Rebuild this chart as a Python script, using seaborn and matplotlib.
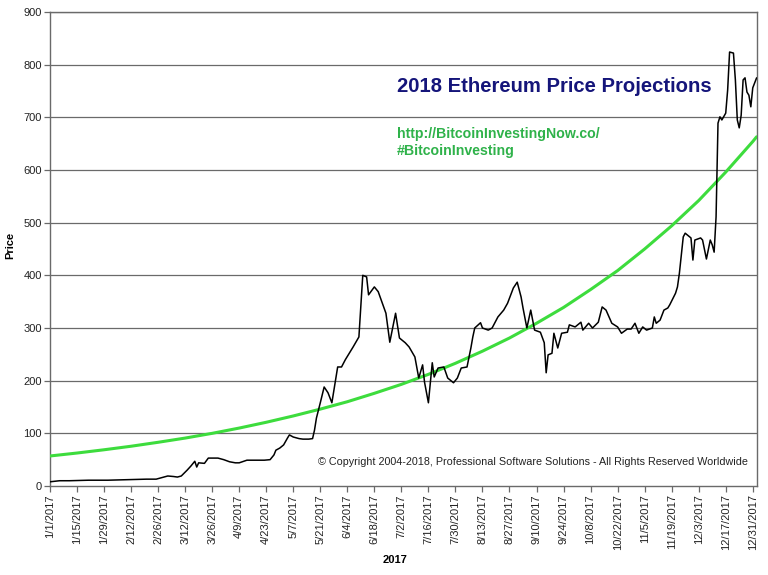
import datetime as dt
import numpy as np
import pandas as pd
import matplotlib
matplotlib.use("Agg")
import matplotlib.pyplot as plt
import matplotlib.dates as mdates
import seaborn as sns

# ---- data ----
start_date = dt.date(2017, 1, 1)

price_days = [0, 5, 10, 20, 30, 40, 50, 55, 58, 61, 64, 66, 68, 71, 73, 75, 76, 77, 80, 82,
              87, 90, 93, 96, 98, 102, 107, 111, 114, 116, 117, 119, 121, 123, 124, 126, 129,
              131, 134, 136, 137, 138, 140, 142, 144, 146, 149, 151, 153, 155, 157, 160, 161, 162,
              164, 165, 168, 170, 173, 174, 176, 179, 181, 184, 186, 189, 191, 193, 194, 196, 198,
              199, 201, 204, 206, 209, 211, 213, 216, 218, 219, 220, 223, 224, 227, 229, 232,
              235, 237, 240, 242, 244, 245, 247, 249, 251, 254, 256, 257, 258, 260, 261, 263,
              265, 268, 269, 272, 275, 276, 279, 281, 284, 286, 288, 291, 294, 296, 299, 301,
              303, 305, 307, 309, 312, 313, 314, 316, 318, 320, 321, 324, 325, 326, 328, 329,
              330, 332, 333, 334, 337, 338, 340, 342, 343, 344, 345, 346, 347, 348, 350, 351,
              352, 354, 355, 356, 357, 358, 359, 360, 361, 362, 363, 364, 366]
price_values = [8, 10, 10, 11, 11, 12, 13, 13, 16, 19, 18, 17, 19, 30, 38, 47, 36, 44, 43, 53,
                53, 50, 46, 44, 44, 49, 49, 49, 50, 59, 68, 72, 78, 91, 97, 93, 90,
                89, 89, 90, 106, 129, 158, 188, 177, 158, 226, 226, 240, 252, 264, 283, 340, 400,
                397, 363, 378, 369, 338, 328, 273, 328, 281, 272, 264, 245, 205, 230, 197, 158, 234,
                207, 224, 226, 205, 196, 205, 224, 226, 262, 283, 300, 310, 300, 296, 300, 321,
                334, 347, 376, 387, 359, 338, 300, 334, 296, 292, 272, 215, 249, 252, 290, 262,
                290, 292, 306, 302, 311, 296, 309, 300, 311, 340, 334, 309, 302, 290, 298, 298,
                309, 290, 302, 296, 300, 321, 309, 315, 334, 338, 344, 366, 378, 404, 473, 480,
                477, 471, 429, 467, 471, 467, 431, 467, 458, 444, 511, 689, 701, 695, 708, 752,
                824, 822, 771, 695, 680, 704, 771, 775, 748, 742, 720, 756, 775]

proj_days = [0, 14, 28, 42, 56, 70, 84, 98, 112, 126, 140, 154, 168, 182, 196, 210, 224,
             238, 252, 266, 280, 294, 308, 322, 336, 350, 364, 366]
proj_values = [57, 62.6, 68.8, 75.5, 83, 91, 100, 110, 121, 133, 146, 160, 176, 193, 212, 233,
               256, 281, 309, 339, 373, 409, 450, 494, 542, 596, 654, 663]

tick_days = list(range(0, 365, 14))
y_ticks = [0, 100, 200, 300, 400, 500, 600, 700, 800, 900]

title_text = "2018 Ethereum Price Projections"
url_text = "http://BitcoinInvestingNow.co/"
tag_text = "#BitcoinInvesting"
copy_text = "\u00a9 Copyright 2004-2018, Professional Software Solutions - All Rights Reserved Worldwide"

# ---- build frames ----
to_date = lambda d: pd.Timestamp(start_date) + pd.Timedelta(days=d)
price_df = pd.DataFrame({"date": [to_date(d) for d in price_days], "price": price_values})
proj_df = pd.DataFrame({"date": [to_date(d) for d in proj_days], "price": proj_values})
tick_dates = [to_date(d) for d in tick_days]

sns.set_style("white")
plt.rcParams["font.family"] = ["Liberation Sans", "DejaVu Sans"]

fig = plt.figure(figsize=(7.68, 5.75), dpi=100)
ax = fig.add_axes([50 / 768, 1 - 486 / 575, (757 - 50) / 768, (486 - 12) / 575])

grid_c = "#6a6a6a"
for yv in y_ticks[1:]:
    ax.axhline(yv, color=grid_c, lw=0.9, zorder=1)

sns.lineplot(data=proj_df, x="date", y="price", ax=ax, color="#3ddc3d", lw=2.2, zorder=3)
sns.lineplot(data=price_df, x="date", y="price", ax=ax, color="black", lw=1.1, zorder=4)

ax.set_xlim(to_date(0), to_date(366.2))
ax.set_ylim(0, 900)
ax.set_yticks(y_ticks)
ax.set_yticklabels([str(v) for v in y_ticks], fontsize=8, color="#222222")
ax.set_xticks(tick_dates)
ax.set_xticklabels([f"{t.month}/{t.day}/{t.year}" for t in tick_dates], rotation=90,
                   fontsize=8, color="#222222")
ax.tick_params(axis="both", direction="out", length=4, width=0.9, color=grid_c, pad=2)
ax.tick_params(axis="both", which="both", bottom=True, left=True)
for s in ["left", "bottom", "right", "top"]:
    ax.spines[s].set_color(grid_c)
    ax.spines[s].set_linewidth(1.0)
ax.set_xlabel("")
ax.set_ylabel("")

fig.text(397 / 768, 1 - 87 / 575, title_text, fontsize=14.6, fontweight="bold",
         color="#15157a", va="center", ha="left")
fig.text(397 / 768, 1 - 134 / 575, url_text, fontsize=10.2, fontweight="bold",
         color="#2fb24a", va="center", ha="left")
fig.text(397 / 768, 1 - 151 / 575, tag_text, fontsize=10.2, fontweight="bold",
         color="#2fb24a", va="center", ha="left")
fig.text(318 / 768, 1 - 462 / 575, copy_text, fontsize=7.75, color="#222222",
         va="center", ha="left")
fig.text(10 / 768, 1 - 245 / 575, "Price", fontsize=8, fontweight="bold", rotation=90,
         va="center", ha="center", color="black")
fig.text(395 / 768, 1 - 560 / 575, "2017", fontsize=8, fontweight="bold",
         va="center", ha="center", color="black")

fig.savefig("out.png", dpi=100, facecolor="white")
